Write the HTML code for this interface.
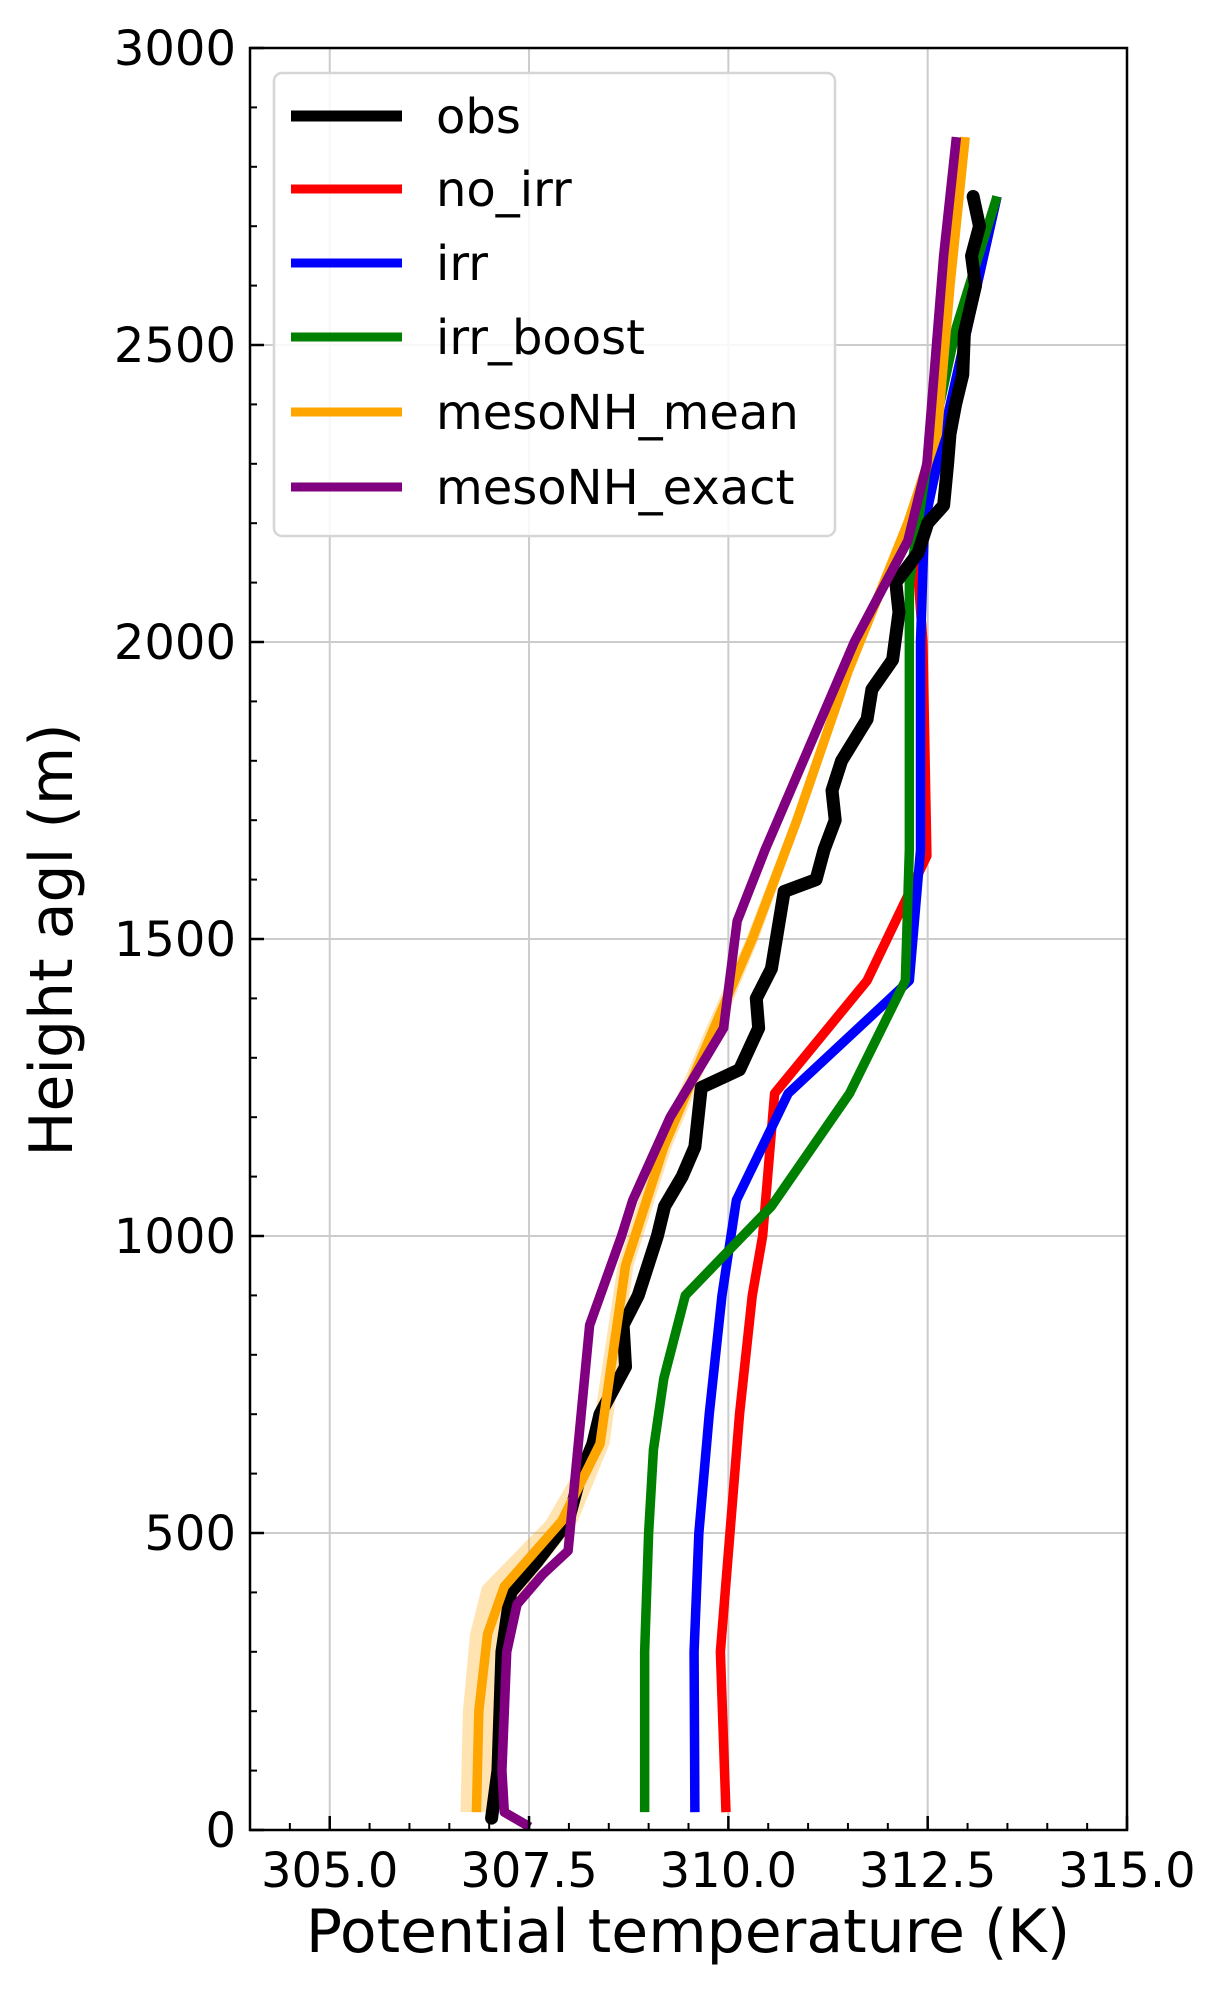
<!DOCTYPE html>
<html><head><meta charset="utf-8"><style>
body{margin:0;background:#fff;}
svg text{font-family:"DejaVu Sans","Liberation Sans",sans-serif;}
</style></head><body>
<svg id="chart" width="1224" height="1990" viewBox="0 0 1224 1990" xmlns="http://www.w3.org/2000/svg">
<g id="grid"></g>
<g id="band"></g>
<g id="series"></g>
<g id="axes"></g>
<g id="legend"></g>
<text x="688" y="1952" font-size="60" text-anchor="middle">Potential temperature (K)</text>
<text transform="translate(72,940) rotate(-90)" font-size="60" text-anchor="middle">Height agl (m)</text>
</svg>
<script>
const xTicks=[305,307.5,310,312.5,315];
const xTickLabels=["305.0","307.5","310.0","312.5","315.0"];
const yTicks=[0,500,1000,1500,2000,2500,3000];
const yTickLabels=["0","500","1000","1500","2000","2500","3000"];
const seriesNames=["obs","no_irr","irr","irr_boost","mesoNH_mean","mesoNH_exact"];
const seriesColors=["#000000","#ff0000","#0000ff","#008000","#ffa500","#800080"];
const obsH=[20,100,300,400,450,520,600,650,700,780,850,900,1000,1050,1100,1150,1250,1280,1350,1400,1450,1580,1600,1650,1700,1750,1800,1870,1920,1970,2050,2100,2150,2200,2230,2300,2350,2400,2450,2520,2600,2650,2700,2750];
const obsT=[307.03,307.11,307.16,307.27,307.59,307.99,308.15,308.30,308.39,308.71,308.68,308.87,309.11,309.20,309.42,309.58,309.66,310.14,310.38,310.35,310.54,310.70,311.10,311.20,311.34,311.30,311.42,311.74,311.80,312.06,312.14,312.10,312.38,312.50,312.70,312.75,312.78,312.85,312.94,312.96,313.10,313.05,313.15,313.07];
const noIrrH=[30,300,500,700,900,1000,1240,1430,1640,2000,2200,2350,2750];
const noIrrT=[309.97,309.90,310.02,310.14,310.30,310.43,310.58,311.74,312.49,312.44,312.33,312.70,313.37];
const irrH=[30,300,500,700,900,1060,1240,1430,1650,2000,2200,2350,2750];
const irrT=[309.58,309.57,309.63,309.76,309.92,310.10,310.75,312.27,312.41,312.41,312.46,312.70,313.37];
const boostH=[30,300,500,640,760,900,1050,1240,1430,1650,2000,2100,2300,2530,2750];
const boostT=[308.95,308.95,309.00,309.06,309.19,309.46,310.54,311.52,312.22,312.27,312.27,312.27,312.49,312.86,313.37];
const meanH=[30,200,330,410,520,650,950,1150,1350,1500,1700,1950,2200,2350,2600,2850];
const meanT=[306.84,306.87,306.98,307.19,307.91,308.39,308.71,309.19,309.82,310.30,310.86,311.50,312.25,312.62,312.78,312.97];
const meanSpread=[0.2,0.2,0.22,0.28,0.2,0.12,0.1,0.1,0.1,0.08,0.06,0.05,0.05,0.05,0.05,0.05];
const exactH=[5,30,100,300,380,430,470,850,1000,1060,1200,1350,1530,1650,1850,2000,2170,2300,2650,2850];
const exactT=[307.51,307.19,307.16,307.22,307.35,307.67,307.99,308.26,308.66,308.80,309.27,309.94,310.11,310.46,311.10,311.58,312.25,312.49,312.70,312.86];

const L=250,R=1127,T=48,B=1830,xmin=304,xmax=315,ymin=0,ymax=3000;
const sx=v=>L+(v-xmin)/(xmax-xmin)*(R-L);
const sy=v=>B-(v-ymin)/(ymax-ymin)*(B-T);
const NS="http://www.w3.org/2000/svg";
function mk(tag,attrs,parent){const e=document.createElementNS(NS,tag);for(const k in attrs)e.setAttribute(k,attrs[k]);parent.appendChild(e);return e;}
const grid=document.getElementById('grid'),axes=document.getElementById('axes'),series=document.getElementById('series'),band=document.getElementById('band'),legend=document.getElementById('legend');
xTicks.forEach((v,i)=>{
 const g=mk('line',{x1:sx(v),x2:sx(v),y1:T,y2:B,stroke:'#cccccc','stroke-width':2},grid);
 
 
 const t=mk('line',{x1:sx(v),x2:sx(v),y1:B,y2:B-14,stroke:'#000','stroke-width':2.5},axes);
 
 
 const lb=mk('text',{x:sx(v),y:B+57,'font-size':48,'text-anchor':'middle'},axes);
 lb.textContent=xTickLabels[i];
 
 
});
for(let v=304;v<=315.001;v+=0.5){const m=mk('line',{x1:sx(v),x2:sx(v),y1:B,y2:B-7,stroke:'#000','stroke-width':2},axes);
 
 }
yTicks.forEach((v,i)=>{
 const g=mk('line',{x1:L,x2:R,y1:sy(v),y2:sy(v),stroke:'#cccccc','stroke-width':2},grid);
 
 
 const t=mk('line',{x1:L,x2:L+14,y1:sy(v),y2:sy(v),stroke:'#000','stroke-width':2.5},axes);
 
 
 const lb=mk('text',{x:L-14,y:sy(v)+17,'font-size':48,'text-anchor':'end'},axes);
 lb.textContent=yTickLabels[i];
 
 
});
for(let v=0;v<=3000;v+=100){const m=mk('line',{x1:L,x2:L+7,y1:sy(v),y2:sy(v),stroke:'#000','stroke-width':2},axes);
 
 }
const frame=mk('rect',{x:L,y:T,width:R-L,height:B-T,fill:'none',stroke:'#000','stroke-width':2.5},axes);



let up=meanH.map((h,i)=>sx(meanT[i]+meanSpread[i])+','+sy(h));
let lo=meanH.map((h,i)=>sx(meanT[i]-meanSpread[i])+','+sy(h)).reverse();
const bp=mk('polygon',{points:up.concat(lo).join(' '),fill:'#ffa500','fill-opacity':0.3,stroke:'none'},band);



const all=[[obsT,obsH,13],[noIrrT,noIrrH,9.5],[irrT,irrH,9.5],[boostT,boostH,9.5],[meanT,meanH,9.5],[exactT,exactH,9.5]];
const order=[1,2,3,0,4,5];
order.forEach(i=>{
 const [xs,hs,w]=all[i];
 const p=mk('polyline',{points:hs.map((h,j)=>sx(xs[j])+','+sy(h)).join(' '),fill:'none',stroke:seriesColors[i],'stroke-width':w,'stroke-linejoin':'round','stroke-linecap':i===0?'round':'butt'},series);
 
 
});

const lbox=mk('rect',{x:274,y:73,width:561,height:463,rx:8,fill:'#fff','fill-opacity':0.85,stroke:'#d6d6d6','stroke-width':2.5},legend);


const ly=[116,189,263,337,412,487];
seriesNames.forEach((n,i)=>{
 const g=mk('g',{},legend);
 
 
 mk('line',{x1:291,x2:402,y1:ly[i],y2:ly[i],stroke:seriesColors[i],'stroke-width':i===0?11:9},g);
 const t=mk('text',{x:436,y:ly[i]+17,'font-size':48},g);
 t.textContent=n;
});
</script>
</body></html>
